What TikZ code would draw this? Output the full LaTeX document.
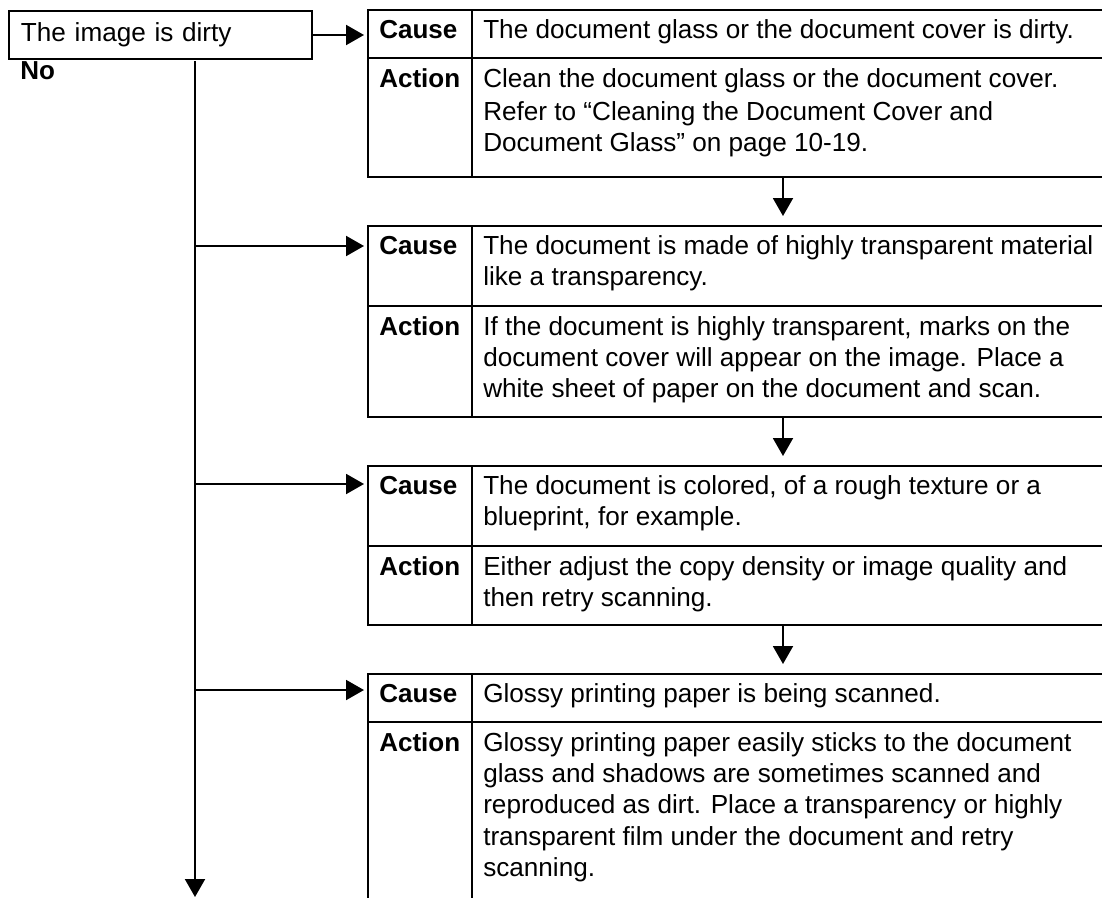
\documentclass[tikz,border=0pt]{standalone}
\usepackage{fontspec}
\setmainfont{Liberation Sans}
\usetikzlibrary{arrows.meta}
\begin{document}
\begin{tikzpicture}[x=0.75pt,y=-0.75pt,
  tline/.style={line width=1.5pt},
  arr/.style={line width=1.5pt,-{Triangle[length=13.5pt,width=15pt]}},
  txt/.style={anchor=base west,inner sep=0pt,font=\fontsize{19.6}{23.6}\selectfont},
  lbl/.style={anchor=base west,inner sep=0pt,font=\fontsize{19.5}{23.6}\selectfont\bfseries}]
\useasboundingbox (0,0) rectangle (1102,897);

% start box
\node[draw,line width=1.5pt,anchor=north west,minimum height=36pt,inner ysep=0pt,
      inner xsep=9pt,text width=209.25pt,align=left,
      font=\fontsize{19.6}{23.6}\selectfont] (start) at (8,10) {The image is dirty};
\node[lbl] (no) at (20,79) {No};

% main vertical line
\coordinate (vtop) at (195,61);
\coordinate (vbot) at (195,897);
\draw[arr] (vtop) -- (vbot);

% ---- table 1
\draw[tline] (1103,10) -- (368,10) -- (368,177) -- (1103,177);
\draw[tline] (368,58) -- (1103,58);
\draw[tline] (472,10) -- (472,177);
\node[lbl] (c1) at (379,38) {Cause};
\node[txt] (c1t) at (483,38) {The document glass or the document cover is dirty.};
\node[lbl] (a1) at (379,87) {Action};
\node[txt] (a1t) at (483,87) {\vtop{\hbox{Clean the document glass or the document cover.}\vskip1.2pt
  \hbox{Refer to “Cleaning the Document Cover and}\hbox{Document Glass” on page 10-19.}}};

% ---- table 2
\draw[tline] (1103,226) -- (368,226) -- (368,417) -- (1103,417);
\draw[tline] (368,306) -- (1103,306);
\draw[tline] (472,226) -- (472,417);
\node[lbl] (c2) at (379,254) {Cause};
\node[txt] (c2t) at (483,254) {\vtop{\hbox{The document is made of highly transparent material}\hbox{like a transparency.}}};
\node[lbl] (a2) at (379,335) {Action};
\node[txt] (a2t) at (483,335) {\vtop{\hbox{If the document is highly transparent, marks on the}\hbox{document cover will appear on the image. Place a}\hbox{white sheet of paper on the document and scan.}}};

% ---- table 3
\draw[tline] (1103,466) -- (368,466) -- (368,625) -- (1103,625);
\draw[tline] (368,546) -- (1103,546);
\draw[tline] (472,466) -- (472,625);
\node[lbl] (c3) at (379,494) {Cause};
\node[txt] (c3t) at (483,494) {\vtop{\hbox{The document is colored, of a rough texture or a}\hbox{blueprint, for example.}}};
\node[lbl] (a3) at (379,575) {Action};
\node[txt] (a3t) at (483,575) {\vtop{\hbox{Either adjust the copy density or image quality and}\hbox{then retry scanning.}}};

% ---- table 4
\draw[tline] (1103,674) -- (368,674) -- (368,905);
\draw[tline] (368,722) -- (1103,722);
\draw[tline] (472,674) -- (472,905);
\node[lbl] (c4) at (379,702) {Cause};
\node[txt] (c4t) at (483,702) {Glossy printing paper is being scanned.};
\node[lbl] (a4) at (379,751) {Action};
\node[txt] (a4t) at (483,751) {\vtop{\hbox{Glossy printing paper easily sticks to the document}\hbox{glass and shadows are sometimes scanned and}\hbox{reproduced as dirt. Place a transparency or highly}\hbox{transparent film under the document and retry}\hbox{scanning.}}};

% connectors
\coordinate (t1w) at (364,34);
\draw[arr] (start.east) -- (start.east -| t1w);
\coordinate (b2) at (195,246);  \coordinate (t2w) at (364,246);
\coordinate (b3) at (195,484);  \coordinate (t3w) at (364,484);
\coordinate (b4) at (195,690);  \coordinate (t4w) at (364,690);
\draw[arr] (b2) -- (t2w);
\draw[arr] (b3) -- (t3w);
\draw[arr] (b4) -- (t4w);

\coordinate (t1s) at (783,177); \coordinate (t2n) at (783,216);
\coordinate (t2s) at (783,417); \coordinate (t3n) at (783,456);
\coordinate (t3s) at (783,625); \coordinate (t4n) at (783,664);
\draw[arr] (t1s) -- (t2n);
\draw[arr] (t2s) -- (t3n);
\draw[arr] (t3s) -- (t4n);
\end{tikzpicture}
\end{document}
